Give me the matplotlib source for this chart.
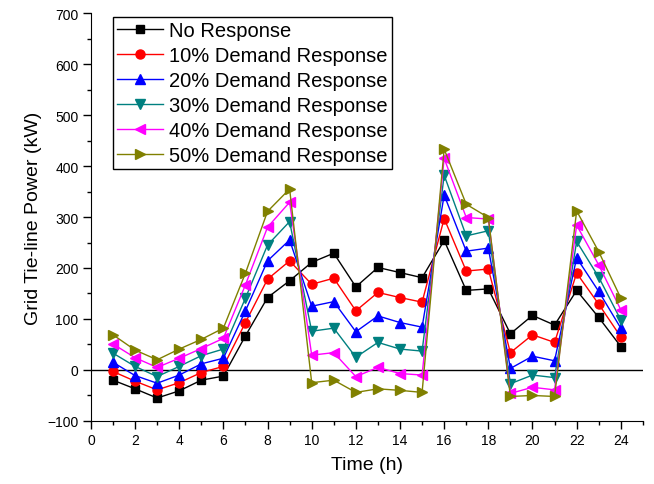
import matplotlib.pyplot as plt
from matplotlib.ticker import MultipleLocator

plt.rcParams['font.family'] = ['Liberation Sans', 'DejaVu Sans']

hours = list(range(1, 25))

no_response = [-20, -37, -55, -41, -20, -12, 67, 142, 175, 211, 229, 163,
               201, 191, 181, 254, 156, 159, 71, 107, 88, 156, 103, 46]
dr10 = [-3, -22, -39, -25, -5, 7, 93, 178, 214, 168, 180, 116,
        152, 142, 133, 297, 194, 198, 34, 69, 54, 190, 129, 65]
dr20 = [15, -11, -26, -10, 12, 23, 116, 214, 255, 125, 134, 75,
        106, 93, 84, 343, 233, 239, 3, 27, 18, 220, 154, 82]
dr30 = [33, 7, -13, 7, 28, 41, 141, 245, 291, 76, 82, 25,
        54, 41, 37, 382, 263, 273, -27, -10, -15, 252, 182, 98]
dr40 = [51, 24, 5, 23, 42, 62, 167, 280, 329, 29, 34, -13,
        5, -7, -10, 415, 299, 296, -46, -34, -39, 284, 206, 118]
dr50 = [69, 39, 20, 41, 60, 82, 190, 311, 355, -25, -20, -44,
        -37, -40, -44, 433, 325, 299, -52, -50, -52, 312, 232, 141]

series = [
    (no_response, 'No Response', 'black', 's', 6),
    (dr10, '10% Demand Response', 'red', 'o', 6.5),
    (dr20, '20% Demand Response', 'blue', '^', 7.5),
    (dr30, '30% Demand Response', '#008080', 'v', 7.5),
    (dr40, '40% Demand Response', '#ff00ff', '<', 7.5),
    (dr50, '50% Demand Response', '#808000', '>', 7.5),
]

fig = plt.figure(figsize=(6.54, 4.85), dpi=100)
ax = fig.add_axes([0.139, 0.130, 0.844, 0.841])

ax.axhline(0, color='black', lw=1, zorder=1)

for vals, name, col, mk, ms in series:
    ax.plot(hours, vals, color=col, marker=mk, markersize=ms, lw=1,
            label=name, zorder=2)

ax.set_xlim(0, 25)
ax.set_ylim(-100, 700)
ax.xaxis.set_major_locator(MultipleLocator(2))
ax.xaxis.set_minor_locator(MultipleLocator(1))
ax.yaxis.set_major_locator(MultipleLocator(100))
ax.yaxis.set_minor_locator(MultipleLocator(50))
ax.tick_params(which='major', direction='out', length=5.5, width=1, labelsize=10)
ax.tick_params(which='minor', direction='out', length=3, width=1)

ax.spines['top'].set_visible(False)
ax.spines['right'].set_visible(False)

ax.set_xlabel('Time (h)', fontsize=14, labelpad=6)
ax.set_ylabel('Grid Tie-line Power (kW)', fontsize=14, labelpad=4)

leg = ax.legend(loc='upper left', bbox_to_anchor=(113 / 654, 1 - 18 / 485),
                bbox_transform=fig.transFigure, borderaxespad=0,
                fontsize=14.5, frameon=True, fancybox=False, framealpha=1,
                edgecolor='black', borderpad=0.2, labelspacing=0.3,
                handlelength=2.3, handletextpad=0.3)
leg.get_frame().set_linewidth(1)

fig.savefig('out.png', dpi=100)
